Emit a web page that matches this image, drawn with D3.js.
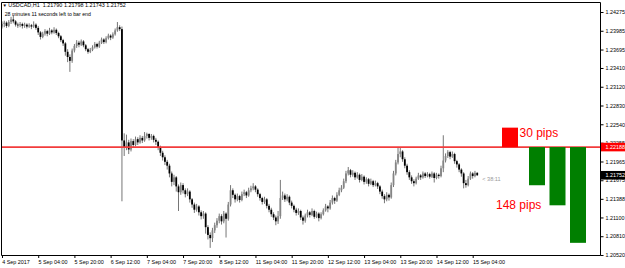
<!DOCTYPE html>
<html><head><meta charset="utf-8">
<script src="https://cdn.jsdelivr.net/npm/d3@7"></script>
<style>body{margin:0;background:#fff}svg{display:block}</style>
</head><body>
<script>
// ---------- DATA ----------
const symbolHeader = "USDCAD,H1  1.21790 1.21798 1.21743 1.21752";
const timerText = "28 minutes 11 seconds left to bar end";
const opens = [
1.2405,1.2409,1.2411,1.2406,1.2412,1.2416,1.2413,1.2408,1.2407,1.2409,
1.2406,1.2408,1.2405,1.2407,1.2405,1.2408,1.2403,1.2396,1.2389,1.2394,
1.2398,1.2394,1.2399,1.2396,1.2400,1.2395,1.2390,1.2384,1.2379,1.2366,
1.2358,1.2352,1.2368,1.2375,1.2380,1.2377,1.2382,1.2376,1.2370,1.2366,
1.2369,1.2373,1.2378,1.2374,1.2380,1.2385,1.2381,1.2387,1.2391,1.2388,
1.2393,1.2399,1.2404,1.2401,1.2229,1.2218,1.2226,1.2215,1.2228,1.2222,
1.2231,1.2226,1.2233,1.2229,1.2236,1.2239,1.2233,1.2236,1.2230,1.2227,
1.2218,1.2210,1.2203,1.2196,1.2190,1.2178,1.2165,1.2172,1.2158,1.2149,
1.2160,1.2152,1.2146,1.2150,1.2138,1.2130,1.2122,1.2127,1.2118,1.2112,
1.2116,1.2095,1.2083,1.2078,1.2090,1.2098,1.2105,1.2112,1.2104,1.2116,
1.2108,1.2130,1.2152,1.2145,1.2138,1.2143,1.2137,1.2146,1.2149,1.2144,
1.2152,1.2155,1.2158,1.2153,1.2146,1.2140,1.2134,1.2138,1.2128,1.2122,
1.2115,1.2110,1.2104,1.2112,1.2140,1.2144,1.2138,1.2142,1.2133,1.2128,
1.2122,1.2117,1.2120,1.2110,1.2105,1.2113,1.2118,1.2114,1.2120,1.2111,
1.2116,1.2109,1.2115,1.2121,1.2127,1.2124,1.2133,1.2140,1.2136,1.2145,
1.2152,1.2156,1.2166,1.2178,1.2183,1.2176,1.2179,1.2172,1.2176,1.2168,
1.2173,1.2165,1.2169,1.2162,1.2166,1.2160,1.2163,1.2158,1.2150,1.2143,
1.2138,1.2145,1.2141,1.2160,1.2178,1.2195,1.2208,1.2212,1.2200,1.2190,
1.2180,1.2172,1.2166,1.2163,1.2170,1.2175,1.2172,1.2178,1.2174,1.2177,
1.2173,1.2178,1.2171,1.2176,1.2174,1.2186,1.2198,1.2205,1.2211,1.2204,
1.2208,1.2197,1.2192,1.2184,1.2178,1.2163,1.2160,1.2170,1.2178,1.2174,
1.21790];
const highs = [
1.2413,1.2414,1.2413,1.2415,1.2420,1.2423,1.2415,1.2411,1.2412,1.2411,
1.2411,1.2410,1.2410,1.2409,1.2413,1.2410,1.2406,1.2398,1.2397,1.2401,
1.2400,1.2403,1.2401,1.2404,1.2402,1.2397,1.2392,1.2386,1.2381,1.2370,
1.2362,1.2371,1.2378,1.2384,1.2383,1.2385,1.2384,1.2378,1.2372,1.2372,
1.2376,1.2381,1.2380,1.2383,1.2388,1.2387,1.2390,1.2394,1.2393,1.2396,
1.2402,1.2412,1.2407,1.2405,1.2240,1.2238,1.2230,1.2232,1.2231,1.2235,
1.2234,1.2237,1.2236,1.2242,1.2241,1.2240,1.2239,1.2238,1.2233,1.2229,
1.2221,1.2213,1.2206,1.2199,1.2193,1.2181,1.2176,1.2174,1.2161,1.2164,
1.2163,1.2155,1.2155,1.2152,1.2140,1.2133,1.2131,1.2129,1.2121,1.2120,
1.2118,1.2098,1.2087,1.2094,1.2102,1.2109,1.2116,1.2115,1.2120,1.2118,
1.2134,1.2160,1.2155,1.2147,1.2147,1.2145,1.2150,1.2153,1.2151,1.2156,
1.2159,1.2163,1.2160,1.2155,1.2148,1.2142,1.2142,1.2140,1.2131,1.2125,
1.2118,1.2113,1.2120,1.2168,1.2150,1.2147,1.2146,1.2144,1.2136,1.2130,
1.2125,1.2124,1.2122,1.2113,1.2116,1.2122,1.2120,1.2124,1.2122,1.2119,
1.2118,1.2118,1.2124,1.2131,1.2129,1.2137,1.2144,1.2142,1.2149,1.2156,
1.2160,1.2170,1.2182,1.2188,1.2185,1.2183,1.2181,1.2180,1.2178,1.2177,
1.2175,1.2172,1.2171,1.2170,1.2168,1.2167,1.2165,1.2160,1.2153,1.2146,
1.2149,1.2147,1.2164,1.2182,1.2199,1.2219,1.2218,1.2214,1.2203,1.2193,
1.2183,1.2175,1.2169,1.2173,1.2179,1.2177,1.2181,1.2180,1.2180,1.2179,
1.2181,1.2180,1.2179,1.2178,1.2190,1.2237,1.2209,1.2214,1.2213,1.2212,
1.2210,1.2199,1.2194,1.2186,1.2180,1.2168,1.2174,1.2181,1.2180,1.2182,
1.21798];
const lows = [
1.2402,1.2404,1.2403,1.2404,1.2409,1.2410,1.2405,1.2403,1.2404,1.2402,
1.2403,1.2402,1.2403,1.2401,1.2403,1.2400,1.2392,1.2385,1.2387,1.2391,
1.2390,1.2392,1.2393,1.2394,1.2392,1.2387,1.2381,1.2375,1.2360,1.2350,
1.2335,1.2349,1.2365,1.2372,1.2373,1.2375,1.2373,1.2367,1.2363,1.2364,
1.2367,1.2371,1.2371,1.2372,1.2378,1.2378,1.2379,1.2385,1.2384,1.2386,
1.2391,1.2397,1.2398,1.2135,1.2205,1.2214,1.2208,1.2212,1.2218,1.2220,
1.2222,1.2224,1.2225,1.2227,1.2232,1.2229,1.2230,1.2226,1.2222,1.2214,
1.2205,1.2198,1.2191,1.2184,1.2172,1.2158,1.2160,1.2150,1.2120,1.2145,
1.2147,1.2141,1.2143,1.2133,1.2125,1.2117,1.2119,1.2113,1.2107,1.2108,
1.2085,1.2076,1.2063,1.2072,1.2086,1.2094,1.2101,1.2099,1.2101,1.2079,
1.2105,1.2127,1.2140,1.2133,1.2135,1.2133,1.2135,1.2143,1.2140,1.2142,
1.2149,1.2152,1.2149,1.2142,1.2136,1.2130,1.2131,1.2124,1.2118,1.2111,
1.2106,1.2098,1.2100,1.2108,1.2137,1.2134,1.2135,1.2129,1.2124,1.2118,
1.2113,1.2114,1.2106,1.2099,1.2102,1.2110,1.2110,1.2112,1.2108,1.2109,
1.2104,1.2107,1.2113,1.2119,1.2118,1.2122,1.2130,1.2131,1.2134,1.2143,
1.2149,1.2154,1.2163,1.2175,1.2172,1.2173,1.2168,1.2170,1.2164,1.2166,
1.2161,1.2162,1.2158,1.2160,1.2157,1.2158,1.2154,1.2146,1.2139,1.2132,
1.2135,1.2136,1.2139,1.2157,1.2175,1.2192,1.2203,1.2196,1.2186,1.2176,
1.2168,1.2162,1.2158,1.2161,1.2168,1.2168,1.2170,1.2171,1.2172,1.2170,
1.2171,1.2164,1.2169,1.2170,1.2172,1.2180,1.2195,1.2202,1.2200,1.2202,
1.2193,1.2187,1.2180,1.2173,1.2155,1.2156,1.2158,1.2168,1.2170,1.2172,
1.21743];
const closes = [
1.2409,1.2411,1.2406,1.2412,1.2416,1.2413,1.2408,1.2407,1.2409,1.2406,
1.2408,1.2405,1.2407,1.2405,1.2408,1.2403,1.2396,1.2389,1.2394,1.2398,
1.2394,1.2399,1.2396,1.2400,1.2395,1.2390,1.2384,1.2379,1.2366,1.2358,
1.2352,1.2368,1.2375,1.2380,1.2377,1.2382,1.2376,1.2370,1.2366,1.2369,
1.2373,1.2378,1.2374,1.2380,1.2385,1.2381,1.2387,1.2391,1.2388,1.2393,
1.2399,1.2404,1.2401,1.2229,1.2218,1.2226,1.2215,1.2228,1.2222,1.2231,
1.2226,1.2233,1.2229,1.2236,1.2239,1.2233,1.2236,1.2230,1.2227,1.2218,
1.2210,1.2203,1.2196,1.2190,1.2178,1.2165,1.2172,1.2158,1.2149,1.2160,
1.2152,1.2146,1.2150,1.2138,1.2130,1.2122,1.2127,1.2118,1.2112,1.2116,
1.2095,1.2083,1.2078,1.2090,1.2098,1.2105,1.2112,1.2104,1.2116,1.2108,
1.2130,1.2152,1.2145,1.2138,1.2143,1.2137,1.2146,1.2149,1.2144,1.2152,
1.2155,1.2158,1.2153,1.2146,1.2140,1.2134,1.2138,1.2128,1.2122,1.2115,
1.2110,1.2104,1.2112,1.2140,1.2144,1.2138,1.2142,1.2133,1.2128,1.2122,
1.2117,1.2120,1.2110,1.2105,1.2113,1.2118,1.2114,1.2120,1.2111,1.2116,
1.2109,1.2115,1.2121,1.2127,1.2124,1.2133,1.2140,1.2136,1.2145,1.2152,
1.2156,1.2166,1.2178,1.2183,1.2176,1.2179,1.2172,1.2176,1.2168,1.2173,
1.2165,1.2169,1.2162,1.2166,1.2160,1.2163,1.2158,1.2150,1.2143,1.2138,
1.2145,1.2141,1.2160,1.2178,1.2195,1.2208,1.2212,1.2200,1.2190,1.2180,
1.2172,1.2166,1.2163,1.2170,1.2175,1.2172,1.2178,1.2174,1.2177,1.2173,
1.2178,1.2171,1.2176,1.2174,1.2186,1.2198,1.2205,1.2211,1.2204,1.2208,
1.2197,1.2192,1.2184,1.2178,1.2163,1.2160,1.2170,1.2178,1.2174,1.2179,
1.21752];
const xTickBars = [0,16,32,48,64,80,96,112,128,144,160,176,192,208];
const xTickLabels = ["4 Sep 2017","5 Sep 04:00","5 Sep 20:00","6 Sep 12:00","7 Sep 04:00","7 Sep 20:00","8 Sep 12:00","11 Sep 04:00","11 Sep 20:00","12 Sep 12:00","13 Sep 04:00","13 Sep 20:00","14 Sep 12:00","15 Sep 04:00"];
const yTickValues = [1.24275,1.23985,1.23695,1.23410,1.23120,1.22830,1.22540,1.22255,1.21965,1.21675,1.21388,1.21100,1.20810,1.20520];
const levelPrice = 1.22188;
const lastPrice = 1.21752;
const countdownText = "< 38:11";
const moveKeys = ["up","d1","d2","d3"];
const movePips = [30,-59,-90,-148];
const moveLabels = ["30 pips","","","148 pips"];

// ---------- LAYOUT ----------
const W=625, H=268;
const svg = d3.select("body").append("svg").attr("width",W).attr("height",H);
svg.append("rect").attr("width",W).attr("height",H).attr("fill","#fff");
const plotL=1.5, plotR=600.5, plotT=2.5, plotB=255.5;
const x = d3.scaleLinear().domain([0,208]).range([2,472.7]);
const y = d3.scaleLinear().domain([1.20520,1.24275]).range([255,12]);
const small = "'Liberation Sans', Arial, sans-serif";

svg.append("defs").append("clipPath").attr("id","clip")
  .append("rect").attr("x",plotL).attr("y",plotT).attr("width",plotR-plotL).attr("height",plotB-plotT);
const plot = svg.append("g").attr("clip-path","url(#clip)");

// candles
const idx = d3.range(closes.length);
plot.selectAll("line.wick").data(idx).join("line").attr("class","wick")
  .attr("x1",i=>x(i)).attr("x2",i=>x(i))
  .attr("y1",i=>y(highs[i])).attr("y2",i=>y(lows[i]))
  .attr("stroke","#666").attr("stroke-width",0.9);
plot.selectAll("rect.body").data(idx).join("rect").attr("class","body")
  .attr("x",i=>x(i)-0.9).attr("width",1.8)
  .attr("y",i=>y(Math.max(opens[i],closes[i])))
  .attr("height",i=>Math.max(0.8, Math.abs(y(opens[i])-y(closes[i]))))
  .attr("fill",i=>closes[i]<opens[i] ? "#000" : "#858585");

// level line
plot.append("line").attr("x1",plotL).attr("x2",plotR)
  .attr("y1",y(levelPrice)).attr("y2",y(levelPrice))
  .attr("stroke","#f23c3c").attr("stroke-width",1.8);

// pip move bars
const ax = d3.scaleOrdinal().domain(moveKeys).range([502,529,549.5,570]);
const bw = 16;
plot.selectAll("rect.move").data(moveKeys).join("rect").attr("class","move")
  .attr("x",k=>ax(k)).attr("width",bw)
  .attr("y",(k,i)=>Math.min(y(levelPrice), y(levelPrice+movePips[i]/10000)))
  .attr("height",(k,i)=>Math.abs(y(levelPrice+movePips[i]/10000)-y(levelPrice)))
  .attr("fill",(k,i)=>movePips[i]>0 ? "#ff0000" : "#007f00");
svg.append("text").attr("x",ax("up")+bw+1.5).attr("y",y(levelPrice+movePips[0]/10000)+9.3)
  .attr("font-family","'Liberation Sans', Arial, sans-serif").attr("font-size",12)
  .attr("fill","#ff0000").text(moveLabels[0]);
svg.append("text").attr("x",ax("d3")-74).attr("y",209)
  .attr("font-family","'Liberation Sans', Arial, sans-serif").attr("font-size",12)
  .attr("fill","#ff0000").text(moveLabels[3]);

// countdown
svg.append("text").attr("x",x(closes.length-1)+5).attr("y",y(lastPrice)+5.5)
  .attr("font-family",small).attr("font-size",5.6).attr("fill","#999").text(countdownText);

// frame
svg.append("path").attr("d",`M${plotL},${plotT}V${plotB}H${plotR}V${plotT}H${plotL}`)
  .attr("fill","none").attr("stroke","#000").attr("stroke-width",1);

// y axis
const yAxis = d3.axisRight(y).tickValues(yTickValues).tickSize(3).tickPadding(2)
  .tickFormat((d,i)=>yTickValues[i].toFixed(5));
const gy = svg.append("g").attr("transform",`translate(${plotR},0)`).call(yAxis);
gy.select(".domain").remove();
gy.selectAll("text").attr("font-family",small).attr("font-size",5.4).attr("fill","#000");
gy.selectAll("line").attr("stroke","#000");

// price labels
function priceTag(p, bg){
  const g = svg.append("g");
  g.append("rect").attr("x",plotR+0.5).attr("y",y(p)-4.3).attr("width",24).attr("height",8.6).attr("fill",bg);
  g.append("text").attr("x",plotR+5).attr("y",y(p)).attr("dy","0.35em")
    .attr("font-family",small).attr("font-size",5.4).attr("fill","#fff").text(p.toFixed(5));
}
priceTag(levelPrice,"#ff0000");
priceTag(lastPrice,"#000");

// x axis
const xAxis = d3.axisBottom(x).tickValues(xTickBars).tickSize(2.5).tickPadding(2)
  .tickFormat((d,i)=>xTickLabels[i]);
const gx = svg.append("g").attr("transform",`translate(0,${plotB})`).call(xAxis);
gx.select(".domain").remove();
gx.selectAll("text").attr("font-family",small).attr("font-size",5.4).attr("fill","#000")
  .attr("text-anchor","start").attr("dx",-0.3);
gx.selectAll("line").attr("stroke","#000");

// header
svg.append("text").attr("x",2.5).attr("y",7.4).attr("font-family",small).attr("font-size",4.5).text("▼");
svg.append("text").attr("x",8.3).attr("y",7.4).attr("font-family",small).attr("font-size",5.45)
  .attr("xml:space","preserve").style("white-space","pre").text(symbolHeader);
svg.append("text").attr("x",4.7).attr("y",16).attr("font-family",small).attr("font-size",5.2).text(timerText);
</script>
</body></html>
